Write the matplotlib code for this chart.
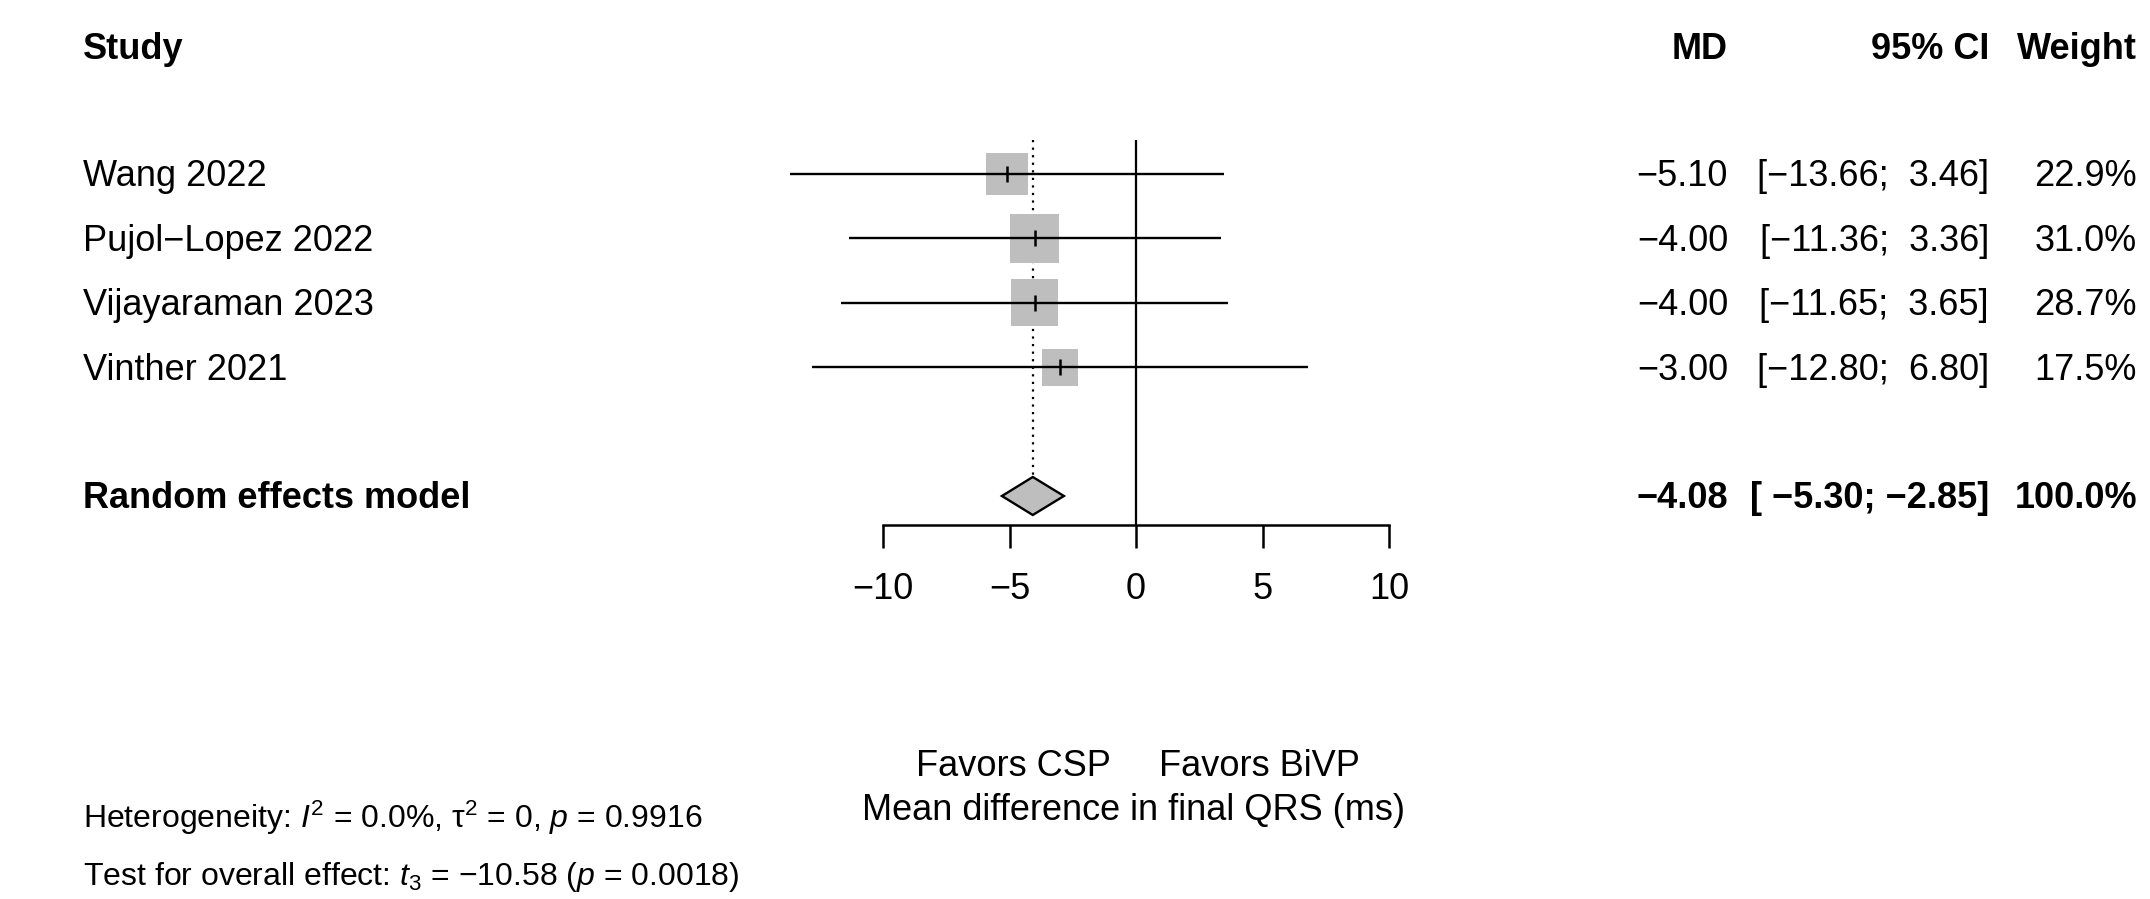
import matplotlib
matplotlib.use("Agg")
import matplotlib.pyplot as plt
from matplotlib.patches import Rectangle, Polygon
from matplotlib.transforms import blended_transform_factory

plt.rcParams["font.family"] = ["Liberation Sans", "DejaVu Sans"]
plt.rcParams["mathtext.fontset"] = "custom"
plt.rcParams["mathtext.rm"] = "Liberation Sans"
plt.rcParams["mathtext.it"] = "Liberation Sans:italic"
plt.rcParams["mathtext.bf"] = "Liberation Sans:bold"

# data
studies = ["Wang 2022", "Pujol\u2212Lopez 2022", "Vijayaraman 2023", "Vinther 2021"]
md = [-5.10, -4.00, -4.00, -3.00]
ci_lo = [-13.66, -11.36, -11.65, -12.80]
ci_hi = [3.46, 3.36, 3.65, 6.80]
weights = [22.9, 31.0, 28.7, 17.5]
pooled_label = "Random effects model"
pooled_md = -4.08
pooled_lo = -5.30
pooled_hi = -2.85
pooled_weight = 100.0
x_ticks = [-10, -5, 0, 5, 10]
label_left = "Favors CSP"
label_right = "Favors BiVP"
xlab = "Mean difference in final QRS (ms)"
het_text = r"Heterogeneity: $I^2$ = 0.0%, $\mathrm{\tau}^2$ = 0, $p$ = 0.9916"
test_text = r"Test for overall effect: $t_3$ = " + "\u2212" + r"10.58 ($p$ = 0.0018)"

W, H = 2150, 899
FS = 26
GREY = "#BEBEBE"


def fmt(v, width=0):
    return f"{v:{width}.2f}".replace("-", "\u2212")


fig = plt.figure(figsize=(W / 100, H / 100), dpi=100)

# forest panel: x -10..10 between 883 and 1389 px, rows 64.4 px apart
row_px = 64.4
first_px = 174
top_px, axis_px = 140, 525
ax = fig.add_axes([883 / W, 1 - axis_px / H, (1389 - 883) / W, (axis_px - top_px) / H])
ax.set_xlim(-10, 10)
ylim_top = 1 + (top_px - first_px) / row_px
ylim_bot = 1 + (axis_px - first_px) / row_px
ax.set_ylim(ylim_bot, ylim_top)
px_x = (1389 - 883) / 20

rows = [1, 2, 3, 4]
pooled_row = 6

for s in ["top", "right", "left"]:
    ax.spines[s].set_visible(False)
ax.spines["bottom"].set_linewidth(1.8)
ax.set_yticks([])
ax.set_xticks(x_ticks)
ax.set_xticklabels([fmt(t).replace(".00", "") for t in x_ticks])
ax.tick_params(axis="x", direction="out", length=16.5, width=1.8, labelsize=FS, pad=17)

ax.axvline(0, color="black", lw=1.6, zorder=1)
h = 19 / row_px
ax.vlines(pooled_md, ylim_top, pooled_row - h, colors="black", lw=1.6,
          linestyles=(0, (1, 2.4)), zorder=1)

max_w = max(weights)
for r, m, lo, hi, w in zip(rows, md, ci_lo, ci_hi, weights):
    side = 48.9 * (w / max_w) ** 0.5
    ax.add_patch(Rectangle((m - side / 2 / px_x, r - side / 2 / row_px),
                           side / px_x, side / row_px, fc=GREY, ec="none", zorder=2))
    ax.hlines(r, lo, hi, colors="black", lw=1.7, clip_on=False, zorder=3)
    ax.plot([m], [r], marker="|", color="black", ms=12, mew=1.8, zorder=4)

ax.add_patch(Polygon([(pooled_lo, pooled_row), (pooled_md, pooled_row - h),
                      (pooled_hi, pooled_row), (pooled_md, pooled_row + h)],
                     closed=True, fc=GREY, ec="black", lw=1.7, zorder=3, clip_on=False))

# text columns
trans = blended_transform_factory(fig.transFigure, ax.transData)
x_study = 83 / W
x_md = 1728 / W
x_ci = 1989 / W
x_wt = 2137 / W
dy = 3 / row_px
header_row = 1 + (47 - first_px) / row_px + dy

for txt, x, ha in [("Study", x_study, "left"), ("MD", x_md, "right"),
                   ("95% CI", x_ci, "right"), ("Weight", x_wt, "right")]:
    ax.text(x, header_row, txt, transform=trans, ha=ha, va="center",
            fontsize=FS, fontweight="bold")

for r, name, m, lo, hi, w in zip(rows, studies, md, ci_lo, ci_hi, weights):
    ty = r + dy
    ax.text(x_study, ty, name, transform=trans, ha="left", va="center", fontsize=FS)
    ax.text(x_md, ty, fmt(m), transform=trans, ha="right", va="center", fontsize=FS)
    ax.text(x_ci, ty, f"[{fmt(lo, 6)}; {fmt(hi, 5)}]", transform=trans,
            ha="right", va="center", fontsize=FS)
    ax.text(x_wt, ty, f"{w:.1f}%", transform=trans, ha="right", va="center", fontsize=FS)

ty = pooled_row + dy
ax.text(x_study, ty, pooled_label, transform=trans, ha="left", va="center",
        fontsize=FS, fontweight="bold")
ax.text(x_md, ty, fmt(pooled_md), transform=trans, ha="right", va="center",
        fontsize=FS, fontweight="bold")
ax.text(x_ci, ty, f"[{fmt(pooled_lo, 6)}; {fmt(pooled_hi, 5)}]", transform=trans,
        ha="right", va="center", fontsize=FS, fontweight="bold")
ax.text(x_wt, ty, f"{pooled_weight:.1f}%", transform=trans, ha="right",
        va="center", fontsize=FS, fontweight="bold")

# labels under the axis
fig.text(1111 / W, 1 - 767 / H, label_left, ha="right", va="center", fontsize=FS)
fig.text(1159 / W, 1 - 767 / H, label_right, ha="left", va="center", fontsize=FS)
fig.text(1134 / W, 1 - 811 / H, xlab, ha="center", va="center", fontsize=FS)

fig.text(x_study, 1 - 818 / H, het_text, ha="left", va="center", fontsize=23)
fig.text(x_study, 1 - 877 / H, test_text, ha="left", va="center", fontsize=23)

fig.savefig("out.png", dpi=100)
